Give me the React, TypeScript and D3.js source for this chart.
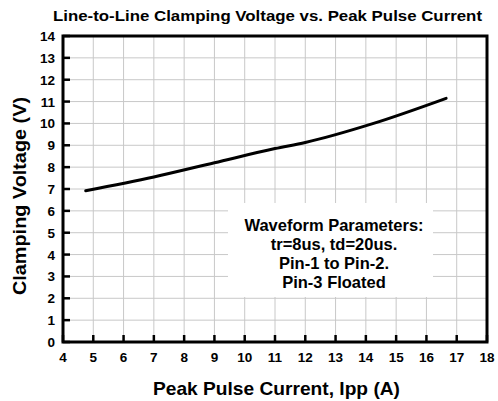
import React from "react";
import * as d3 from "d3";

const currentA = [4.75, 7, 9, 11, 12, 14.2, 16.65];
const clampV = [6.92, 7.55, 8.2, 8.85, 9.13, 9.98, 11.15];
const xTicks = d3.range(4, 19, 1);
const yTicks = d3.range(0, 15, 1);
const noteLines = ["Waveform Parameters:", "tr=8us, td=20us.", "Pin-1 to Pin-2.", "Pin-3 Floated"];

const W = 498, H = 401;
const L = 63, R = 487, T = 36, B = 342;
const TS: React.CSSProperties = { fontFamily: "'Liberation Sans', Arial, sans-serif", fontWeight: 700 };

export default function App() {
  const x = d3.scaleLinear().domain([4, 18]).range([L, R]);
  const y = d3.scaleLinear().domain([0, 14]).range([B, T]);
  const pts = currentA.map((c, i) => [c, clampV[i]] as [number, number]);
  const line = d3.line<[number, number]>().x(d => x(d[0])).y(d => y(d[1])).curve(d3.curveMonotoneX);
  return (
    <svg width={W} height={H} style={{ position: "absolute", left: 0, top: 0, background: "#fff" }}>
      <rect x={0} y={0} width={W} height={H} fill="#fff" />
      <text x={267.5} y={21} textAnchor="middle" fontSize={15.5} textLength={429} lengthAdjust="spacingAndGlyphs" style={TS}>Line-to-Line Clamping Voltage vs. Peak Pulse Current</text>
      {xTicks.map(t => (
        <line key={"gx" + t} x1={x(t)} x2={x(t)} y1={T} y2={B} stroke="#c8c8c8" strokeWidth={1} />
      ))}
      {yTicks.map(t => (
        <line key={"gy" + t} x1={L} x2={R} y1={y(t)} y2={y(t)} stroke="#c8c8c8" strokeWidth={1} />
      ))}
      <rect x={228} y={203} width={205} height={94} fill="#fff" />
      {noteLines.map((s, i) => (
        <text key={s} x={334} y={231 + i * 19} textAnchor="middle" fontSize={16.5} style={TS}>{s}</text>
      ))}
      {xTicks.map(t => (
        <line key={"tx" + t} x1={x(t)} x2={x(t)} y1={B} y2={B - 7} stroke="#000" strokeWidth={2.5} />
      ))}
      {yTicks.map(t => (
        <line key={"ty" + t} x1={L} x2={L + 7} y1={y(t)} y2={y(t)} stroke="#000" strokeWidth={2.5} />
      ))}
      <rect x={L} y={T} width={R - L} height={B - T} fill="none" stroke="#000" strokeWidth={3} />
      <path d={line(pts) || ""} fill="none" stroke="#000" strokeWidth={3} strokeLinecap="round" />
      {xTicks.map(t => (
        <text key={"lx" + t} x={x(t)} y={362} textAnchor="middle" fontSize={13.5} style={TS}>{t}</text>
      ))}
      {yTicks.map(t => (
        <text key={"ly" + t} x={55} y={y(t) + 5} textAnchor="end" fontSize={13.5} style={TS}>{t}</text>
      ))}
      <text x={276.5} y={395} textAnchor="middle" fontSize={18.5} textLength={247} lengthAdjust="spacingAndGlyphs" style={TS}>Peak Pulse Current, Ipp (A)</text>
      <text transform={`translate(26,196) rotate(-90)`} textAnchor="middle" fontSize={19} textLength={198} lengthAdjust="spacingAndGlyphs" style={TS}>Clamping Voltage (V)</text>
    </svg>
  );
}
